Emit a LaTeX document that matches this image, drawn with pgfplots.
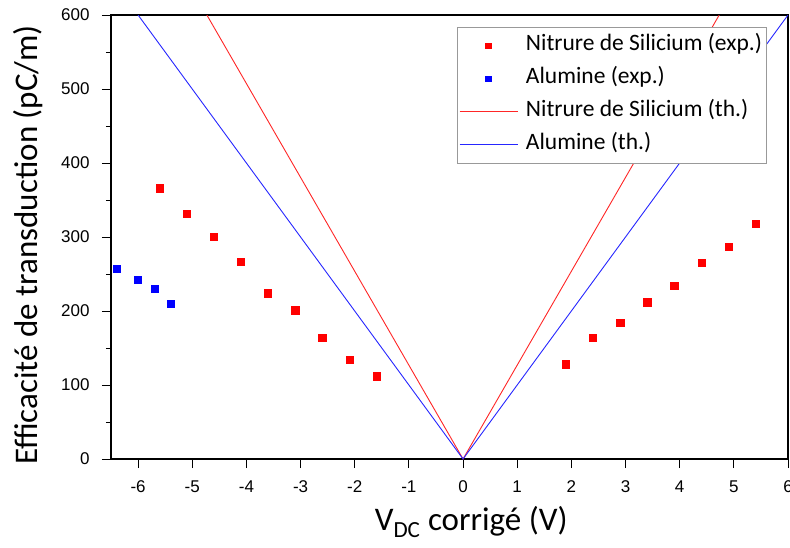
\documentclass[border=0pt]{standalone}
\usepackage{pgfplots}
\pgfplotsset{compat=1.18}
\usepackage{fontspec}
\setmainfont{Carlito}
\newfontfamily\arialfont{Liberation Sans}
\pgfplotsset{
  markleg/.style={legend image code/.code={\draw[##1, mark size=2.7bp] plot coordinates {(29bp,0bp)};}},
  lineleg/.style={legend image code/.code={\draw[##1] (0bp,0bp) -- (58bp,0bp);}},
}
\begin{document}
\begin{tikzpicture}
\begin{axis}[
  scale only axis, width=677bp, height=444bp,
  xmin=-6.5, xmax=6, ymin=0, ymax=600,
  xtick={-6,-5,-4,-3,-2,-1,0,1,2,3,4,5,6},
  ytick={0,100,200,300,400,500,600},
  minor y tick num=1,
  tick align=outside, tick pos=left,
  major tick length=9bp, minor tick length=5bp,
  every tick/.style={black, line width=1bp},
  axis line style={line width=1.2bp},
  ticklabel style={font=\arialfont\fontsize{17bp}{19bp}\selectfont},
  xticklabel style={yshift=-9bp},
  yticklabel style={xshift=-9bp},
  /pgf/number format/assume math mode=true,
  xlabel={V\textsubscript{DC} corrigé (V)},
  ylabel={Efficacité de transduction (pC/m)},
  every axis x label/.style={at={(axis description cs:0.532,-0.142)}, anchor=center,
    font=\fontsize{33bp}{36bp}\selectfont},
  every axis y label/.style={at={(axis description cs:-0.123,0.482)}, rotate=90, anchor=center,
    font=\fontsize{33bp}{36bp}\selectfont},
  legend style={at={(axis description cs:0.968,0.973)}, anchor=north east,
    draw=gray!80, line width=0.8bp, fill=white,
    font=\fontsize{23.5bp}{26bp}\selectfont,
    inner sep=2bp,
    nodes={text height=17bp, text depth=7bp, inner ysep=4.5bp},
    /tikz/every odd column/.append style={column sep=6bp},
    /tikz/every even column/.append style={column sep=2bp}},
  legend cell align=left,
]
\addplot[only marks, mark=square*, mark size=3.6bp, color=red, markleg]
  coordinates {(-5.6,366) (-5.1,331) (-4.6,300) (-4.1,267) (-3.6,224) (-3.1,201) (-2.6,164) (-2.1,134) (-1.6,112)
  (1.9,128) (2.4,164) (2.9,184) (3.4,212) (3.9,234) (4.4,265) (4.9,287) (5.4,318)};
\addlegendentry{Nitrure de Silicium (exp.)}
\addplot[only marks, mark=square*, mark size=3.6bp, color=blue, markleg]
  coordinates {(-6.4,257) (-6.0,242) (-5.7,230) (-5.4,210)};
\addlegendentry{Alumine (exp.)}
\addplot[color=red!85!white, line width=0.9bp, mark=none, lineleg]
  coordinates {(-4.73,600) (0,0) (4.73,600)};
\addlegendentry{Nitrure de Silicium (th.)}
\addplot[color=blue!85!white, line width=0.9bp, mark=none, lineleg]
  coordinates {(-6,600) (0,0) (6,600)};
\addlegendentry{Alumine (th.)}
\coordinate (sw) at (rel axis cs:0,0);
\coordinate (ne) at (rel axis cs:1,1);
\end{axis}
\pgfresetboundingbox
\path[use as bounding box] ([shift={(-111bp,-88bp)}]sw) rectangle ([shift={(2bp,15bp)}]ne);
\end{tikzpicture}
\end{document}
